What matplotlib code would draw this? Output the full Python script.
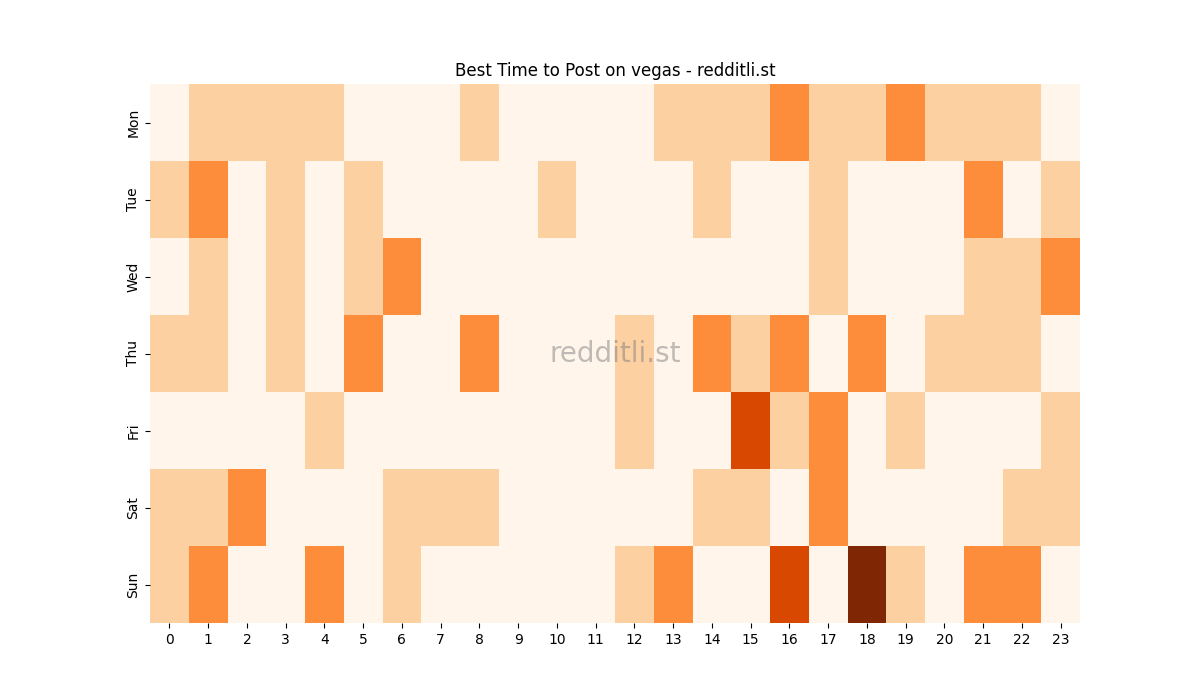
import matplotlib
matplotlib.use("Agg")
import matplotlib.pyplot as plt
import seaborn as sns
import numpy as np

days = ["Mon", "Tue", "Wed", "Thu", "Fri", "Sat", "Sun"]
hours = list(range(24))

mon = [0,1,1,1,1,0,0,0,1,0,0,0,0,1,1,1,2,1,1,2,1,1,1,0]
tue = [1,2,0,1,0,1,0,0,0,0,1,0,0,0,1,0,0,1,0,0,0,2,0,1]
wed = [0,1,0,1,0,1,2,0,0,0,0,0,0,0,0,0,0,1,0,0,0,1,1,2]
thu = [1,1,0,1,0,2,0,0,2,0,0,0,1,0,2,1,2,0,2,0,1,1,1,0]
fri = [0,0,0,0,1,0,0,0,0,0,0,0,1,0,0,3,1,2,0,1,0,0,0,1]
sat = [1,1,2,0,0,0,1,1,1,0,0,0,0,0,1,1,0,2,0,0,0,0,1,1]
sun = [1,2,0,0,2,0,1,0,0,0,0,0,1,2,0,0,3,0,4,1,0,2,2,0]

data = np.array([mon, tue, wed, thu, fri, sat, sun])

fig = plt.figure(figsize=(12, 7), dpi=100)
ax = fig.add_subplot(111)
sns.heatmap(data, cmap="Oranges", cbar=False, ax=ax,
            xticklabels=hours, yticklabels=days)
ax.set_title("Best Time to Post on vegas - redditli.st")
ax.text(0.5, 0.5, "redditli.st", transform=ax.transAxes, fontsize=20,
        color="gray", alpha=0.5, ha="center", va="center")
fig.savefig("out.png", dpi=100)
